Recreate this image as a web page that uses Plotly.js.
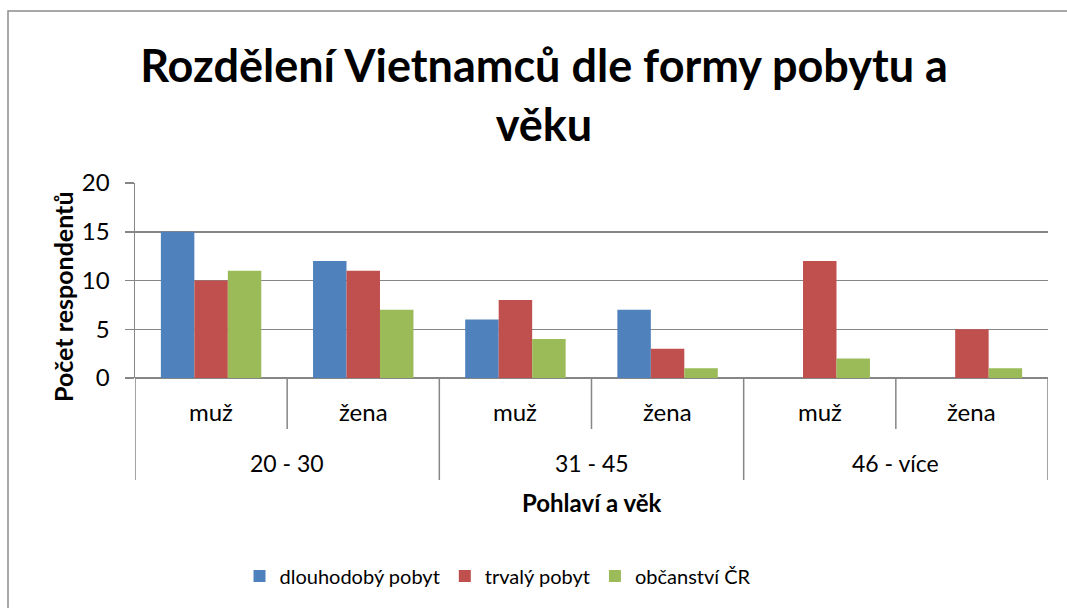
<!DOCTYPE html>
<html>
<head>
<meta charset="utf-8">
<script src="https://cdn.plot.ly/plotly-3.0.1.min.js"></script>
<style>html,body{margin:0;padding:0;background:#fff;}#chart{width:1067px;height:608px;}</style>
</head>
<body>
<div id="chart"></div>
<script>
// ---- data ----
const genders = ['muž', 'žena', 'muž', 'žena', 'muž', 'žena'];
const ageGroups = ['20 - 30', '31 - 45', '46 - více'];
const seriesNames = ['dlouhodobý pobyt', 'trvalý pobyt', 'občanství ČR'];
const dlouhodoby = [15, 12, 6, 7, 0, 0];
const trvaly = [10, 11, 8, 3, 12, 5];
const obcanstvi = [11, 7, 4, 1, 2, 1];
const yTicks = [0, 5, 10, 15, 20];

const colors = ['#4F81BD', '#C0504D', '#9BBB59'];
const FONT = 'Lato, "Open Sans", sans-serif';
const idx = genders.map((_, i) => i);

const traces = [dlouhodoby, trvaly, obcanstvi].map((vals, k) => ({
  type: 'bar',
  name: seriesNames[k],
  x: idx,
  y: vals,
  marker: {color: colors[k], line: {width: 0}},
  hoverinfo: 'x+y+name'
}));

// plot geometry helpers (pixels -> paper)
const W = 1067, H = 608;
const L = 135, R = 19, T = 183, B = 230;
const pw = W - L - R, ph = H - T - B;
const py = (pix) => (H - B - pix) / ph;   // pixel y -> paper y
const px = (pix) => (pix - L) / pw;        // pixel x -> paper x

const annotations = [];
genders.forEach((g, i) => {
  annotations.push({x: i, xref: 'x', y: py(411), yref: 'paper', text: g, showarrow: false,
    xanchor: 'center', yanchor: 'middle', font: {family: FONT, size: 24, color: '#000'}});
});
ageGroups.forEach((a, j) => {
  annotations.push({x: 2 * j + 0.5, xref: 'x', y: py(463), yref: 'paper', text: a, showarrow: false,
    xanchor: 'center', yanchor: 'middle', font: {family: FONT, size: 23, color: '#000'}});
});
annotations.push({x: 0.5, xref: 'paper', y: py(502), yref: 'paper', text: '<b>Pohlaví a věk</b>', showarrow: false,
  xanchor: 'center', yanchor: 'middle', font: {family: FONT, size: 24, color: '#000'}});
annotations.push({x: px(63), xref: 'paper', y: py(297), yref: 'paper', text: '<b>Počet respondentů</b>', showarrow: false,
  textangle: -90, xanchor: 'center', yanchor: 'middle', font: {family: FONT, size: 25, color: '#000'}});

const shapes = [];
const axisGray = '#868686';
// category dividers below axis
for (let b = 0; b <= genders.length; b++) {
  const outer = (b % 2 === 0);
  shapes.push({type: 'line', xref: 'x', yref: 'paper', x0: b - 0.5, x1: b - 0.5,
    y0: 0, y1: py(outer ? 480 : 429), line: {color: axisGray, width: 1.5}});
}
// chart area border
shapes.push({type: 'rect', xref: 'paper', yref: 'paper', x0: px(8), x1: px(1100), y0: py(11), y1: py(640),
  line: {color: '#8c8c8c', width: 1.5}, fillcolor: 'rgba(0,0,0,0)'});

const layout = {
  width: W, height: H,
  margin: {l: L, r: R, t: T, b: B, pad: 0},
  paper_bgcolor: '#fff', plot_bgcolor: '#fff',
  font: {family: FONT, color: '#000'},
  title: {
    text: '<b>Rozdělení Vietnamců dle formy pobytu a<br>věku</b>',
    font: {family: FONT, size: 45, color: '#000'},
    xref: 'container', x: 544 / W, xanchor: 'center',
    yref: 'container', y: 1 - 82 / H, yanchor: 'top'
  },
  barmode: 'group', bargap: 0.34, bargroupgap: 0,
  xaxis: {range: [-0.5, genders.length - 0.5], showticklabels: false, ticks: '', showgrid: false,
    zeroline: false, showline: false, fixedrange: true},
  yaxis: {range: [0, 20], tickvals: yTicks, ticks: 'outside', ticklen: 9, tickcolor: axisGray, tickwidth: 1.5,
    showline: true, linecolor: axisGray, linewidth: 1.5, showgrid: true, gridcolor: axisGray, gridwidth: 1.5,
    zeroline: true, zerolinecolor: axisGray, zerolinewidth: 1.5, ticklabelstandoff: 10,
    tickfont: {family: FONT, size: 24, color: '#000'}, fixedrange: true},
  showlegend: true,
  legend: {orientation: 'h', x: px(498), xanchor: 'center', y: py(576), yanchor: 'middle',
    font: {family: FONT, size: 20, color: '#000'}, bgcolor: 'rgba(0,0,0,0)', traceorder: 'normal'},
  annotations: annotations,
  shapes: shapes
};

Plotly.newPlot('chart', traces, layout, {displayModeBar: false, staticPlot: true});
</script>
</body>
</html>
